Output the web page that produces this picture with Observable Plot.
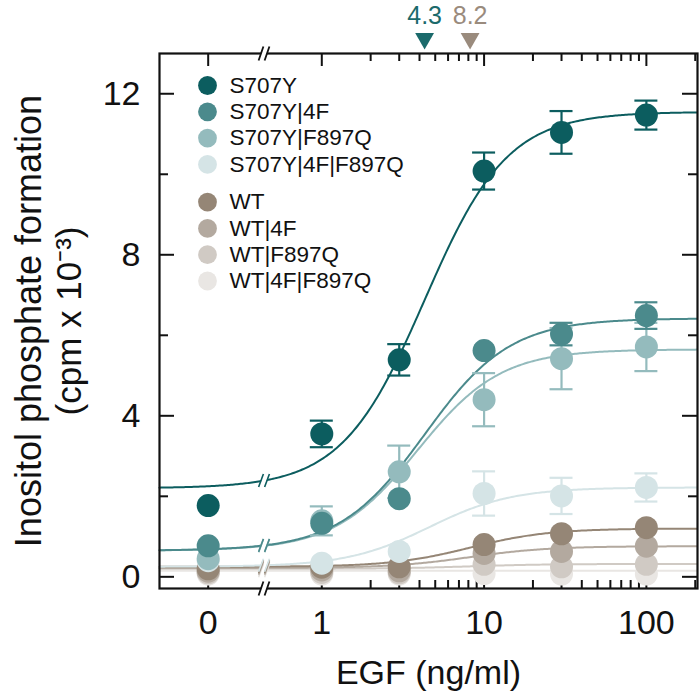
<!DOCTYPE html>
<html>
<head>
<meta charset="utf-8">
<script src="https://cdn.jsdelivr.net/npm/d3@7"></script>
<script src="https://cdn.jsdelivr.net/npm/@observablehq/plot@0.6"></script>
<style>
  body { margin: 0; background: #fff; }
  #chart svg { display: block; }
</style>
</head>
<body>
<div id="chart"></div>
<script>
// ---------------- DATA ----------------
const doses = [0, 1, 3, 10, 30, 100];
const doseLabels = ["0", "1", "10", "100"];
const doseLabelValues = [0, 1, 10, 100];
const minorDoseTicks = [2, 3, 4, 5, 6, 7, 8, 9, 20, 30, 40, 50, 60, 70, 80, 90, 200];
const yMajorTicks = [0, 4, 8, 12];
const yMinorTicks = [2, 6, 10];

const seriesNames = ["S707Y", "S707Y|4F", "S707Y|F897Q", "S707Y|4F|F897Q", "WT", "WT|4F", "WT|F897Q", "WT|4F|F897Q"];
const seriesColors = ["#0c5d5f", "#4b8a8c", "#94bbbd", "#d5e4e6", "#958676", "#b3a99f", "#d0cac4", "#e9e6e3"];

const meanS707Y       = [1.77, 3.55, 5.39, 10.08, 11.04, 11.47];
const meanS707Y4F     = [0.77, 1.33, 1.94, 5.62, 6.03, 6.49];
const meanS707YF897Q  = [0.45, 1.39, 2.61, 4.40, 5.42, 5.71];
const meanS707Y4FF897Q= [0.40, 0.34, 0.63, 2.07, 2.01, 2.22];
const meanWT          = [0.20, 0.24, 0.25, 0.80, 1.07, 1.22];
const meanWT4F        = [0.14, 0.17, 0.15, 0.58, 0.63, 0.76];
const meanWTF897Q     = [0.10, 0.11, 0.10, 0.31, 0.25, 0.31];
const meanWT4FF897Q   = [0.07, 0.07, 0.07, 0.08, 0.07, 0.07];

const semS707Y        = [null, 0.33, 0.39, 0.46, 0.53, 0.36];
const semS707Y4F      = [null, null, null, null, 0.28, 0.33];
const semS707YF897Q   = [null, 0.36, 0.65, 0.66, 0.76, 0.60];
const semS707Y4FF897Q = [null, null, null, 0.55, 0.45, 0.35];
const semWT           = [null, null, null, null, null, null];
const semWT4F         = [null, null, null, null, null, null];
const semWTF897Q      = [null, null, null, null, null, null];
const semWT4FF897Q    = [null, null, null, null, null, null];

// fitted dose-response (Hill) parameters
const fitBottom = [2.20, 0.65, 0.65, 0.25, 0.25, 0.22, 0.20, 0.15];
const fitTop    = [11.55, 6.42, 5.65, 2.22, 1.20, 0.76, 0.32, 0.15];
const fitEC50   = [4.3, 4.3, 3.9, 4.6, 8.2, 8.2, 8.2, 8.2];
const fitHill   = [1.7, 1.65, 1.7, 1.7, 1.8, 1.8, 1.8, 1.8];

const ec50Marks = [4.3, 8.2];
const ec50Colors = ["#1b6a6b", "#9a8b7d"];

const xTitle = "EGF (ng/ml)";
const yTitle1 = "Inositol phosphate formation";
const yTitle2 = "(cpm x 10\u207B\u00B3)";

// ---------------- LAYOUT ----------------
const W = 699, H = 693;
const M = {left: 159, right: 2, top: 53, bottom: 105};
const xDom = [-1.0, 2.315];
const yDom = [-0.29, 13.0];
const kx = (W - M.left - M.right) / (xDom[1] - xDom[0]);
const ky = (H - M.top - M.bottom) / (yDom[1] - yDom[0]);
const ZERO_POS = -0.7;     // where dose 0 sits on the broken log axis
const BREAK_POS = -0.356;  // axis break
const pos = d => d === 0 ? ZERO_POS : Math.log10(d);
const FONT = "Liberation Sans, Arial, Helvetica, sans-serif";

const means = [meanS707Y, meanS707Y4F, meanS707YF897Q, meanS707Y4FF897Q, meanWT, meanWT4F, meanWTF897Q, meanWT4FF897Q];
const sems = [semS707Y, semS707Y4F, semS707YF897Q, semS707Y4FF897Q, semWT, semWT4F, semWTF897Q, semWT4FF897Q];

const hill = (i, p) => fitBottom[i] + (fitTop[i] - fitBottom[i]) / (1 + Math.pow(fitEC50[i] / Math.pow(10, p), fitHill[i]));

// slanted "/" segment in data units, offset by pixels
const slash = (px, py, offPx, halfW, halfH) => ({
  x1: px + (offPx - halfW) / kx, y1: py - halfH / ky,
  x2: px + (offPx + halfW) / kx, y2: py + halfH / ky
});

const drawOrder = [7, 6, 5, 4, 3, 2, 1, 0];
const marks = [];

// curves
const grid = d3.range(xDom[0], xDom[1] + 1e-9, 0.01);
for (const i of drawOrder) {
  marks.push(Plot.line(grid, {x: p => p, y: p => hill(i, p), stroke: seriesColors[i], strokeWidth: 2, curve: "linear"}));
}
// curve breaks
for (const i of drawOrder) {
  const v = hill(i, BREAK_POS);
  marks.push(Plot.link([slash(BREAK_POS, v, 0, 2.6, 8)], {x1: "x1", y1: "y1", x2: "x2", y2: "y2", stroke: "#fff", strokeWidth: 5}));
}
for (const i of drawOrder) {
  const v = hill(i, BREAK_POS);
  marks.push(Plot.link([slash(BREAK_POS, v, -3, 2.4, 6.5), slash(BREAK_POS, v, 3, 2.4, 6.5)],
    {x1: "x1", y1: "y1", x2: "x2", y2: "y2", stroke: seriesColors[i], strokeWidth: 1.6}));
}

// frame
marks.push(Plot.frame({stroke: "#111", strokeWidth: 2.2}));

// ticks
const xMajor = doseLabelValues.map(pos);
const xMinor = minorDoseTicks.map(pos);
const tickRulesX = (vals, len) => [
  Plot.ruleX(vals, {x: d => d, y1: yDom[0], y2: yDom[0] + len / ky, stroke: "#111", strokeWidth: 2}),
  Plot.ruleX(vals, {x: d => d, y1: yDom[1], y2: yDom[1] - len / ky, stroke: "#111", strokeWidth: 2})
];
const tickRulesY = (vals, len) => [
  Plot.ruleY(vals, {y: d => d, x1: xDom[0], x2: xDom[0] + len / kx, stroke: "#111", strokeWidth: 2}),
  Plot.ruleY(vals, {y: d => d, x1: xDom[1], x2: xDom[1] - len / kx, stroke: "#111", strokeWidth: 2})
];
marks.push(...tickRulesX(xMajor, 13), ...tickRulesX(xMinor, 8), ...tickRulesY(yMajorTicks, 15), ...tickRulesY(yMinorTicks, 9));

// axis breaks (bottom and top)
for (const yb of [yDom[0], yDom[1]]) {
  marks.push(Plot.link([slash(BREAK_POS, yb, 0, 2.6, 7)], {x1: "x1", y1: "y1", x2: "x2", y2: "y2", stroke: "#fff", strokeWidth: 5}));
  marks.push(Plot.link([slash(BREAK_POS, yb, -3, 2.4, 7), slash(BREAK_POS, yb, 3, 2.4, 7)],
    {x1: "x1", y1: "y1", x2: "x2", y2: "y2", stroke: "#111", strokeWidth: 1.8}));
}

// tick labels
marks.push(Plot.text(doseLabelValues, {x: pos, y: yDom[0], dy: 35, text: (d, i) => doseLabels[i], fontSize: 34, lineAnchor: "middle", fill: "#111"}));
marks.push(Plot.text(yMajorTicks, {x: xDom[0], y: d => d, dx: -19, text: d => String(d), fontSize: 34, textAnchor: "end", lineAnchor: "middle", fill: "#111"}));

// error bars + points
const capHalf = 11.5 / kx;
for (const i of drawOrder) {
  const pts = doses.map((d, j) => ({p: pos(d), v: means[i][j], e: sems[i][j]}));
  const eb = pts.filter(d => d.e != null);
  marks.push(Plot.ruleX(eb, {x: "p", y1: d => d.v - d.e, y2: d => d.v + d.e, stroke: seriesColors[i], strokeWidth: 2.2}));
  marks.push(Plot.ruleY(eb, {y: d => d.v + d.e, x1: d => d.p - capHalf, x2: d => d.p + capHalf, stroke: seriesColors[i], strokeWidth: 2.2}));
  marks.push(Plot.ruleY(eb, {y: d => d.v - d.e, x1: d => d.p - capHalf, x2: d => d.p + capHalf, stroke: seriesColors[i], strokeWidth: 2.2}));
  marks.push(Plot.dot(pts, {x: "p", y: "v", r: 11.5, fill: seriesColors[i], stroke: "none"}));
}

// legend
seriesNames.forEach((name, i) => {
  const dy = 32 + i * 26.3 + (i >= 4 ? 11.4 : 0);
  marks.push(Plot.dot([name], {frameAnchor: "top-left", dx: 48, dy, r: 9.4, fill: seriesColors[i], stroke: "none"}));
  marks.push(Plot.text([name], {frameAnchor: "top-left", dx: 70, dy, text: d => d, textAnchor: "start", lineAnchor: "middle", fontSize: 22.5, fill: "#111"}));
});

// EC50 markers
ec50Marks.forEach((v, i) => {
  marks.push(Plot.dot([v], {x: d => Math.log10(d), y: yDom[1], dy: -15, symbol: "triangle", rotate: 180, r: 7, fill: ec50Colors[i], stroke: "none"}));
  marks.push(Plot.text([v], {x: d => Math.log10(d), y: yDom[1], dy: -38, text: d => d.toFixed(1), fontSize: 25, lineAnchor: "middle", fill: ec50Colors[i]}));
});

// titles
marks.push(Plot.text([xTitle], {frameAnchor: "bottom", dy: 85, text: d => d, fontSize: 34, textAnchor: "middle", lineAnchor: "middle", fill: "#111"}));
marks.push(Plot.text([yTitle1], {frameAnchor: "left", dx: 29 - M.left, text: d => d, rotate: -90, fontSize: 36, textAnchor: "middle", lineAnchor: "middle", fill: "#111"}));
marks.push(Plot.text([yTitle2], {frameAnchor: "left", dx: 69 - M.left, text: d => d, rotate: -90, fontSize: 35, textAnchor: "middle", lineAnchor: "middle", fill: "#111"}));

const chart = Plot.plot({
  width: W, height: H,
  marginLeft: M.left, marginRight: M.right, marginTop: M.top, marginBottom: M.bottom,
  x: {type: "linear", domain: xDom, axis: null},
  y: {type: "linear", domain: yDom, axis: null},
  style: {fontFamily: FONT, background: "#fff", color: "#111", overflow: "visible"},
  marks
});
document.getElementById("chart").appendChild(chart);
</script>
</body>
</html>
